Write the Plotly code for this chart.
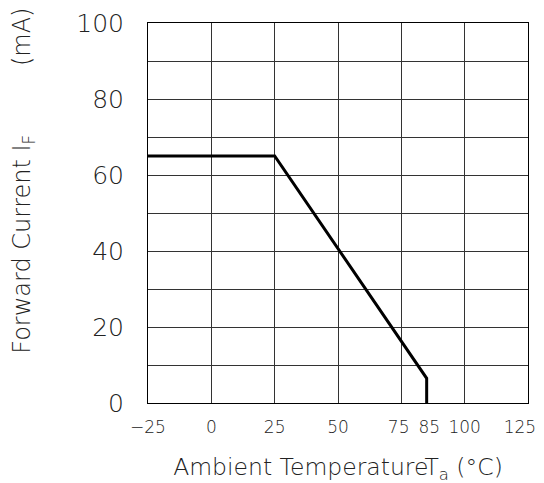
import plotly.graph_objects as go

temp = [-25, 25, 85, 85]
current = [65, 65, 6.5, 0]
x_ticks = [-25, 0, 25, 50, 75, 85, 100, 125]
x_labels = ["−25", "0", "25", "50", "75\u00a0", "\u00a085", "100", "125\u00a0\u00a0\u00a0"]
x_grid = [-25, 0, 25, 50, 75, 100, 125]
y_ticks = [0, 20, 40, 60, 80, 100]

font = "DejaVu Sans, sans-serif"

fig = go.Figure()
fig.add_trace(go.Scatter(x=temp, y=current, mode="lines",
                         line=dict(color="black", width=3), showlegend=False))

fig.add_annotation(
    text="Forward Current I<sub>F</sub>" + "\u00a0" * 9 + "(mA)",
    xref="paper", yref="paper", x=-0.326, y=0.585,
    xanchor="center", yanchor="middle", textangle=-90, showarrow=False,
    font=dict(family=font, size=24, color="#222", weight=200),
)

fig.update_layout(
    width=544, height=483,
    margin=dict(l=140, r=24, t=15, b=88, autoexpand=False),
    paper_bgcolor="white", plot_bgcolor="white",
    font=dict(family=font, size=20, color="#222", weight=200),
    xaxis=dict(range=[-25, 125], tickvals=x_ticks, ticktext=x_labels, tickangle=0,
               tickfont=dict(size=17, weight=200), ticklabeloverflow="allow",
               showgrid=False, zeroline=False, showline=True, mirror=True,
               linecolor="black", linewidth=1, ticks="outside", ticklen=9, tickcolor="rgba(0,0,0,0)",
               minor=dict(tickvals=x_grid, showgrid=True, gridcolor="#333", gridwidth=1, ticks=""),
               title=dict(text="Ambient TemperatureT<sub>a</sub> (°C)", font=dict(size=23.5, weight=200), standoff=22)),
    yaxis=dict(range=[0, 100], tickvals=y_ticks, tickfont=dict(size=25, weight=200),
               showgrid=False, zeroline=False,
               showline=True, mirror=True, linecolor="black", linewidth=1,
               ticks="outside", ticklen=18, tickcolor="rgba(0,0,0,0)",
               minor=dict(dtick=10, tick0=0, showgrid=True, gridcolor="#333", gridwidth=1, ticks="")),
)
fig.write_html("out.html")
